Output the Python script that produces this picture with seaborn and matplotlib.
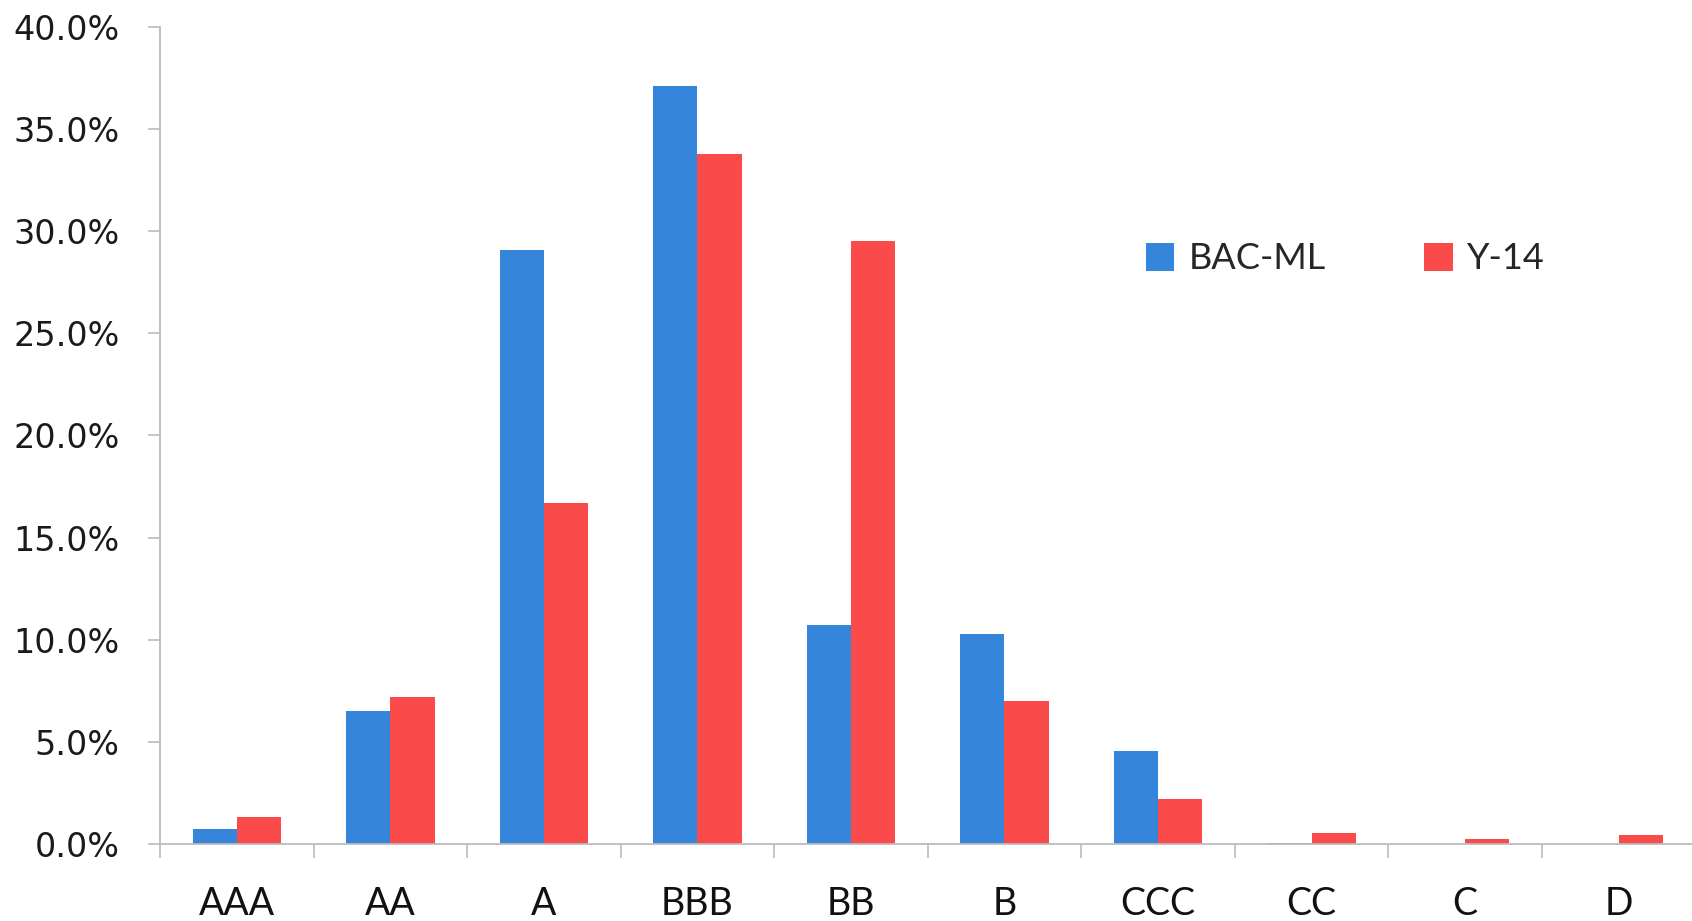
import matplotlib
matplotlib.use("Agg")
import matplotlib.pyplot as plt
import seaborn as sns
import pandas as pd
from matplotlib.ticker import FuncFormatter

categories = ["AAA", "AA", "A", "BBB", "BB", "B", "CCC", "CC", "C", "D"]
bac_ml = [0.75, 6.5, 29.1, 37.1, 10.7, 10.3, 4.55, 0.03, 0.02, 0.0]
y14 = [1.3, 7.2, 16.7, 33.8, 29.5, 7.0, 2.2, 0.55, 0.25, 0.45]
series_names = ["BAC-ML", "Y-14"]
colors = ["#3585DB", "#FB4A4A"]

df = pd.DataFrame({
    "rating": categories * 2,
    "value": bac_ml + y14,
    "series": [series_names[0]] * len(categories) + [series_names[1]] * len(categories),
})

sns.set_style("white")
fig = plt.figure(figsize=(16.92, 9.21), dpi=100)
ax = fig.add_axes([0.0946, 0.0836, 0.9074, 0.8871])

sns.barplot(data=df, x="rating", y="value", hue="series", order=categories,
            hue_order=series_names, palette=colors, width=0.575, gap=0,
            saturation=1, ax=ax, edgecolor="none", linewidth=0)

ax.set_ylim(0, 40)
ax.set_xlim(-0.5, 9.5)
ax.set_yticks(range(0, 41, 5))
ax.yaxis.set_major_formatter(FuncFormatter(lambda v, p: f"{v:.1f}%"))
ax.set_xlabel("")
ax.set_ylabel("")

for s in ["top", "right"]:
    ax.spines[s].set_visible(False)
for s in ["left", "bottom"]:
    ax.spines[s].set_color("#BBBBBB")
    ax.spines[s].set_linewidth(1.3)

ax.tick_params(axis="y", which="major", length=9, width=1.2, color="#BBBBBB",
               pad=20, labelsize=24, labelcolor="#1A1A1A", left=True)
for lbl in ax.get_yticklabels():
    lbl.set_family("DejaVu Sans")

# x ticks: labels at centers, tick marks at category boundaries
ax.set_xticks(range(len(categories)))
ax.set_xticklabels(categories, fontsize=27, family="Lato", color="#111111")
ax.tick_params(axis="x", which="major", length=0, pad=30)
ax.set_xticks([i - 0.5 for i in range(len(categories) + 1)], minor=True)
ax.tick_params(axis="x", which="minor", length=10, width=1.2, color="#BBBBBB", bottom=True)

handles, labels = ax.get_legend_handles_labels()
ax.legend(handles, labels, ncol=2, frameon=False, loc="center",
          bbox_to_anchor=(0.795, 0.719), bbox_transform=fig.transFigure,
          prop={"family": "Lato", "size": 26}, handlelength=0.8, handleheight=0.8,
          handletextpad=0.4, columnspacing=2.7)

fig.savefig("out.png", dpi=100, facecolor="white")
